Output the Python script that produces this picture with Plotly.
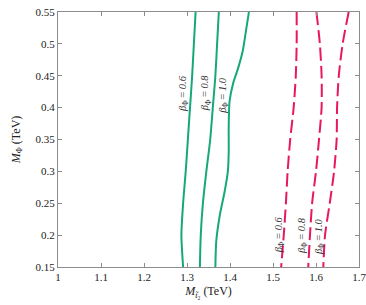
import plotly.graph_objects as go

# y values (M_Phi, TeV)
y_vals = [0.55, 0.50, 0.45, 0.40, 0.35, 0.30, 0.25, 0.20, 0.15]
y_vals_b10 = [0.55, 0.52, 0.49, 0.46, 0.44, 0.41, 0.37, 0.33, 0.30, 0.27, 0.23, 0.19, 0.15]

# solid (green) contours, x = M_t2 (TeV)
green_06 = [1.320, 1.316, 1.312, 1.307, 1.302, 1.297, 1.291, 1.287, 1.291]
green_08 = [1.374, 1.370, 1.366, 1.360, 1.354, 1.345, 1.337, 1.332, 1.330]
green_10 = [1.444, 1.437, 1.430, 1.418, 1.408, 1.399, 1.397, 1.397, 1.395, 1.388, 1.376, 1.368, 1.366]

# dashed (red) contours
red_06 = [1.555, 1.555, 1.553, 1.548, 1.540, 1.534, 1.530, 1.525, 1.519]
red_08 = [1.601, 1.609, 1.613, 1.613, 1.607, 1.600, 1.591, 1.586, 1.582]
red_10 = [1.676, 1.662, 1.653, 1.649, 1.648, 1.642, 1.632, 1.621, 1.617]

beta_labels = ["0.6", "0.8", "1.0"]
green_label_x = [1.293, 1.345, 1.386]
green_label_y = [0.423, 0.423, 0.420]
red_label_x = [1.514, 1.567, 1.607]
red_label_y = [0.200, 0.200, 0.197]

x_ticks = [1, 1.1, 1.2, 1.3, 1.4, 1.5, 1.6, 1.7]
y_ticks = [0.15, 0.2, 0.25, 0.3, 0.35, 0.4, 0.45, 0.5, 0.55]

GREEN = "#17a878"
RED = "#e8175f"
FONT = "Liberation Serif"

fig = go.Figure()
for xs, ys in [(green_06, y_vals), (green_08, y_vals), (green_10, y_vals_b10)]:
    fig.add_trace(go.Scatter(x=xs, y=ys, mode="lines",
                             line=dict(color=GREEN, width=2, shape="spline", smoothing=0.7),
                             showlegend=False, hoverinfo="skip"))
for xs in [red_06, red_08, red_10]:
    fig.add_trace(go.Scatter(x=xs, y=y_vals, mode="lines",
                             line=dict(color=RED, width=2, shape="spline", smoothing=0.7, dash="13px,5px"),
                             showlegend=False, hoverinfo="skip"))

for lab, lx, ly in list(zip(beta_labels, green_label_x, green_label_y)) + list(zip(beta_labels, red_label_x, red_label_y)):
    fig.add_annotation(x=lx, y=ly, text=f"<i>β</i><sub>Φ</sub> = <i>{lab}</i>", textangle=-90,
                       showarrow=False, font=dict(family=FONT, size=10.5, color="#333333"))

axis_common = dict(showgrid=False, zeroline=False, showline=True, linecolor="#8c8c8c", linewidth=1.3,
                   ticks="inside", ticklen=4, tickcolor="#8c8c8c", mirror="ticks", automargin=False,
                   ticklabeloverflow="allow",
                   tickfont=dict(family=FONT, size=11, color="#222222"))
fig.update_xaxes(range=[1, 1.7], tickvals=x_ticks, ticktext=[f"{v:g}" for v in x_ticks],
                 title=dict(text="<i>M</i><sub><i>t̃</i>₂</sub> (TeV)", font=dict(family=FONT, size=12, color="#222222"), standoff=4),
                 **axis_common)
fig.update_yaxes(range=[0.15, 0.55], tickvals=y_ticks, ticktext=[f"{v:g}" for v in y_ticks],
                 title=dict(text="<i>M</i><sub>Φ</sub> (TeV)", font=dict(family=FONT, size=12, color="#222222"), standoff=12),
                 **axis_common)
fig.update_layout(width=366, height=305, margin=dict(l=58, r=7, t=12, b=38),
                  plot_bgcolor="white", paper_bgcolor="white")
fig.write_html("out.html", config={"displayModeBar": False},
               post_script="document.body.style.margin='0';")
